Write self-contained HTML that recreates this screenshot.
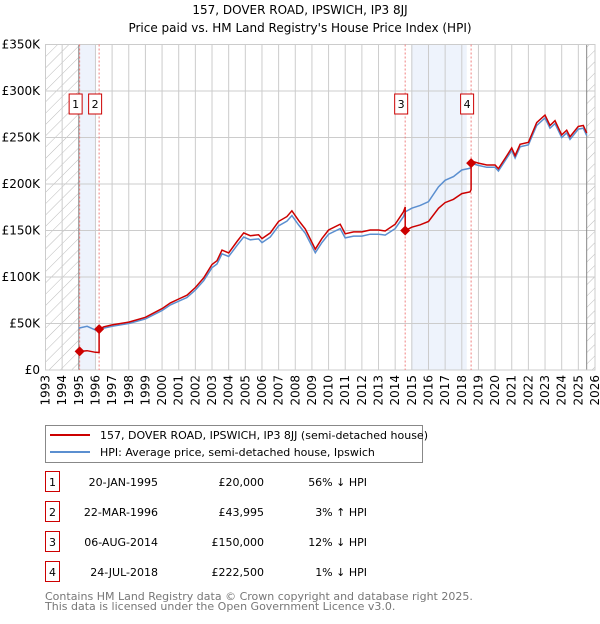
<!DOCTYPE html>
<html><head><meta charset="utf-8"><style>
body{margin:0;background:#fff;font-family:"DejaVu Sans","Liberation Sans",sans-serif}
svg text{font-family:"DejaVu Sans","Liberation Sans",sans-serif}
</style></head><body>
<svg id="c" width="600" height="620" xmlns="http://www.w3.org/2000/svg">
<defs><pattern id="hatch" width="8" height="8" patternUnits="userSpaceOnUse" patternTransform="rotate(45)"><line x1="0" y1="0" x2="0" y2="8" stroke="#bbb" stroke-width="1"/></pattern></defs>
<text x="300" y="14" text-anchor="middle" font-size="12">157, DOVER ROAD, IPSWICH, IP3 8JJ</text>
<text x="300" y="32" text-anchor="middle" font-size="12">Price paid vs. HM Land Registry's House Price Index (HPI)</text>
<g id="plot"></g>
<g>
<rect x="45.5" y="425.5" width="377" height="37" fill="#fff" stroke="#888"/>
<line x1="50" y1="435" x2="90" y2="435" stroke="#cc0000" stroke-width="2"/>
<text x="100" y="439" font-size="11">157, DOVER ROAD, IPSWICH, IP3 8JJ (semi-detached house)</text>
<line x1="50" y1="452" x2="90" y2="452" stroke="#5b8fd0" stroke-width="2"/>
<text x="100" y="456" font-size="11">HPI: Average price, semi-detached house, Ipswich</text>
</g>
<g id="table" font-size="11"></g>
<text x="45" y="600" font-size="11" fill="#777">Contains HM Land Registry data © Crown copyright and database right 2025.</text>
<text x="45" y="610" font-size="11" fill="#777">This data is licensed under the Open Government Licence v3.0.</text>
</svg>
<script>
const hpiYears=[1995.0,1995.5,1996.0,1996.2,1996.5,1997,1998,1999,2000,2000.5,2001,2001.5,2002,2002.5,2003,2003.3,2003.6,2004,2004.5,2004.9,2005.3,2005.8,2006,2006.5,2007,2007.5,2007.8,2008.2,2008.6,2009.2,2009.6,2010,2010.7,2011,2011.5,2012,2012.5,2013,2013.4,2014,2014.5,2014.6,2015,2015.5,2016,2016.6,2017,2017.5,2018,2018.5,2018.6,2019,2019.5,2020,2020.2,2020.6,2021,2021.2,2021.5,2022,2022.5,2023,2023.3,2023.6,2024,2024.3,2024.5,2025,2025.3,2025.5];
const hpiValues=[45,47,43,42.5,45,47,50,55,64,70,74,78,86,96,110,114,125,122,134,143,140,141,137,143,155,160,166,156,147,126,137,146,152,142,144,144,146,146,145,152,165,170,174,177,181,197,204,208,215,217,222,220,218,218,214,225,236,228,240,242,263,271,260,265,250,255,248,259,260,252];
const saleDates=[1995.05,1996.22,2014.6,2018.56];
const salePrices=[20,43.995,150,222.5];
const saleLabels=["1","2","3","4"];
const saleDateText=["20-JAN-1995","22-MAR-1996","06-AUG-2014","24-JUL-2018"];
const salePriceText=["£20,000","£43,995","£150,000","£222,500"];
const saleHpiText=["56% ↓ HPI","3% ↑ HPI","12% ↓ HPI","1% ↓ HPI"];
const yTicks=[0,50,100,150,200,250,300,350];
const yTickLabels=["£0","£50K","£100K","£150K","£200K","£250K","£300K","£350K"];
const xTicks=[1993,1994,1995,1996,1997,1998,1999,2000,2001,2002,2003,2004,2005,2006,2007,2008,2009,2010,2011,2012,2013,2014,2015,2016,2017,2018,2019,2020,2021,2022,2023,2024,2025,2026];

const X0=45.5,X1=595,Y0=370,Y1=44.5;
const xs=t=>X0+(t-1993)/(2026-1993)*(X1-X0);
const ys=v=>Y0-v/350*(Y0-Y1);
const NS="http://www.w3.org/2000/svg";
const plot=document.getElementById('plot');
function mk(tag,attrs,parent){const e=document.createElementNS(NS,tag);for(const k in attrs)e.setAttribute(k,attrs[k]);(parent||plot).appendChild(e);return e;}
function hpiAt(t){for(let i=0;i<hpiYears.length-1;i++){if(t<=hpiYears[i+1]){const f=(t-hpiYears[i])/(hpiYears[i+1]-hpiYears[i]);return hpiValues[i]+f*(hpiValues[i+1]-hpiValues[i]);}}return hpiValues[hpiValues.length-1];}

let e=mk('rect',{x:X0,y:Y1,width:xs(1995)-X0,height:Y0-Y1,fill:'url(#hatch)'});


e=mk('rect',{x:xs(2025.5),y:Y1,width:X1-xs(2025.5),height:Y0-Y1,fill:'url(#hatch)'});


e=mk('rect',{x:xs(saleDates[0]),y:Y1,width:xs(1996.03)-xs(saleDates[0]),height:Y0-Y1,fill:'#eef3fc'});


e=mk('rect',{x:xs(2014.96),y:Y1,width:xs(2018.3)-xs(2014.96),height:Y0-Y1,fill:'#eef3fc'});


yTicks.forEach((v,i)=>{
 const l=mk('line',{x1:X0,x2:X1,y1:ys(v),y2:ys(v),stroke:'#ccc'});
 
 
 const t=mk('text',{x:40,y:ys(v)+4,'text-anchor':'end','font-size':12});
 t.textContent=yTickLabels[i];
 
 
});
xTicks.forEach(yr=>{
 const l=mk('line',{x1:xs(yr),x2:xs(yr),y1:Y1,y2:Y0,stroke:'#ccc'});
 
 
 const t=mk('text',{transform:`translate(${xs(yr)+4},375) rotate(-90)`,'text-anchor':'end','font-size':12});
 t.textContent=yr;
 
 
});
e=mk('line',{x1:xs(1995),x2:xs(1995),y1:Y1,y2:Y0,stroke:'#888'});


e=mk('line',{x1:xs(2025.5),x2:xs(2025.5),y1:Y1,y2:Y0,stroke:'#888'});


e=mk('rect',{x:X0,y:Y1,width:X1-X0,height:Y0-Y1,fill:'none',stroke:'#ccc'});


saleDates.forEach(d=>{
 const l=mk('line',{x1:xs(d),x2:xs(d),y1:Y1,y2:Y0,stroke:'#f08080','stroke-dasharray':'2,2'});
 
 
});
let hp=hpiYears.map((t,i)=>xs(t).toFixed(1)+','+ys(hpiValues[i]).toFixed(1)).join(' ');
e=mk('polyline',{points:hp,fill:'none',stroke:'#5b8fd0','stroke-width':1.5});


let pts=[];
for(let s=0;s<saleDates.length;s++){
 const start=saleDates[s],end=s<saleDates.length-1?saleDates[s+1]:2025.5;
 const base=hpiAt(start);
 const ts=[start].concat(hpiYears.filter(t=>t>start&&t<end)).concat([end]);
 ts.forEach(t=>pts.push([t,salePrices[s]*hpiAt(t)/base]));
}
e=mk('polyline',{points:pts.map(p=>xs(p[0]).toFixed(1)+','+ys(p[1]).toFixed(1)).join(' '),fill:'none',stroke:'#cc0000','stroke-width':1.5});


saleDates.forEach((d,i)=>{
 const x=xs(d),y=ys(salePrices[i]);
 const p=mk('path',{d:`M${x-5},${y}L${x},${y-5}L${x+5},${y}L${x},${y+5}Z`,fill:'#cc0000'});
 
 
 const g=mk('g',{});
 
 
 mk('rect',{x:x-10.5,y:94,width:13,height:20,fill:'#fff',stroke:'#cc0000'},g);
 const t=mk('text',{x:x-4,y:108,'text-anchor':'middle','font-size':11},g);
 t.textContent=saleLabels[i];
});
const tb=document.getElementById('table');
saleLabels.forEach((lb,i)=>{
 const cy=482+i*30;
 const g=mk('g',{},tb);
 
 
 mk('rect',{x:45.5,y:cy-10.5,width:14,height:20,fill:'#fff',stroke:'#cc0000'},g);
 let t=mk('text',{x:52.5,y:cy+4,'text-anchor':'middle'},g);t.textContent=lb;
 t=mk('text',{x:158,y:cy+4,'text-anchor':'end'},g);t.textContent=saleDateText[i];
 t=mk('text',{x:264,y:cy+4,'text-anchor':'end'},g);t.textContent=salePriceText[i];
 t=mk('text',{x:367,y:cy+4,'text-anchor':'end'},g);t.textContent=saleHpiText[i];
});
</script>
</body></html>
